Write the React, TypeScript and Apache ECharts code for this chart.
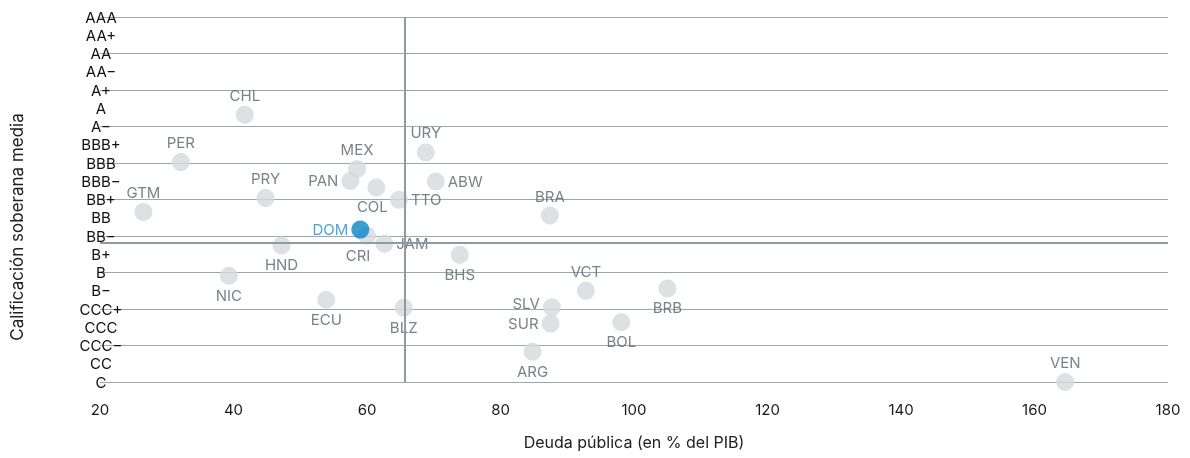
import React, { useEffect, useRef } from "react";
import * as echarts from "echarts";

const ratingLabels = ["C", "CC", "CCC−", "CCC", "CCC+", "B−", "B", "B+", "BB−", "BB", "BB+", "BBB−", "BBB", "BBB+", "A−", "A", "A+", "AA−", "AA", "AA+", "AAA"];
const countries = ["CHL", "PER", "GTM", "PRY", "HND", "NIC", "MEX", "PAN", "COL", "TTO", "URY", "ABW", "CRI", "JAM", "BHS", "VCT", "SLV", "SUR", "BOL", "BRB", "ARG", "BRA", "ECU", "BLZ", "VEN", "DOM"];
const debt = [41.7, 32.1, 26.5, 44.8, 47.2, 39.3, 58.5, 57.5, 61.4, 64.8, 68.8, 70.3, 60.0, 62.6, 73.9, 92.8, 87.7, 87.5, 98.1, 105.0, 84.8, 87.4, 53.9, 65.5, 164.6, 59.0];
const rating = [14.65, 12.05, 9.32, 10.08, 7.48, 5.82, 11.67, 11.02, 10.66, 9.99, 12.58, 10.99, 8.02, 7.58, 6.97, 5.0, 4.09, 3.2, 3.27, 5.13, 1.66, 9.12, 4.51, 4.07, 0, 8.35];
const highlight = "DOM";
const meanDebt = 65.7;
const meanRating = 7.62;
const xTitle = "Deuda pública (en % del PIB)";
const yTitle = "Calificación soberana media";

const labelPos: Record<string, string> = {
  CHL: "top", PER: "top", GTM: "top", PRY: "top", HND: "bottom", NIC: "bottom",
  MEX: "top", PAN: "left", COL: "bottom", TTO: "right", URY: "top", ABW: "right",
  CRI: "bottom", JAM: "right", BHS: "bottom", VCT: "top", SLV: "left", SUR: "left",
  BOL: "bottom", BRB: "bottom", ARG: "bottom", BRA: "top", ECU: "bottom", BLZ: "bottom",
  VEN: "top", DOM: "left",
};
const labelOffset: Record<string, number[]> = {
  COL: [-4, 0], CRI: [-9, 0], SLV: [0, -4],
};

const FONT = "Inter, 'Noto Sans', sans-serif";
const GRID = "#9ba7ad";

export default function App() {
  const ref = useRef<HTMLDivElement>(null);
  useEffect(() => {
    if (!ref.current) return;
    const chart = echarts.init(ref.current, null, { renderer: "svg" });
    const data = countries.map((c, i) => {
      const hl = c === highlight;
      return {
        name: c,
        value: [debt[i], rating[i]],
        itemStyle: { color: hl ? "#0a86c8" : "#d6dadd" },
        label: {
          show: true,
          formatter: c,
          position: labelPos[c] || "top",
          offset: labelOffset[c] || [0, 0],
          distance: 3,
          color: hl ? "#1a8fd0" : "#56646b",
          fontSize: 15,
          fontFamily: FONT,
        },
      };
    });
    const grey = data.filter((d) => d.name !== highlight);
    const hi = data.filter((d) => d.name === highlight);
    chart.setOption({
      animation: false,
      textStyle: { fontFamily: FONT },
      grid: { left: 100, right: 22, top: 17, bottom: 76, containLabel: false, outerBoundsMode: "none" },
      graphic: [
        {
          type: "text",
          x: 17,
          y: 227,
          rotation: Math.PI / 2,
          style: {
            text: yTitle,
            fill: "#222",
            fontSize: 17,
            fontFamily: FONT,
            textAlign: "center",
            textVerticalAlign: "middle",
          },
        },
      ],
      xAxis: {
        type: "value",
        min: 20,
        max: 180,
        interval: 20,
        name: xTitle,
        nameLocation: "middle",
        nameGap: 52,
        nameTextStyle: { color: "#222", fontSize: 16, fontFamily: FONT },
        axisLine: { show: false },
        axisTick: { show: false },
        splitLine: { show: false },
        axisLabel: { color: "#1a1a1a", fontSize: 15, margin: 20, fontFamily: FONT },
      },
      yAxis: [
        {
          type: "value",
          min: 0,
          max: 20,
          interval: 1,
          axisLine: { show: false },
          axisTick: { show: false },
          splitLine: { show: false },
          axisLabel: {
            color: "#111",
            fontSize: 15,
            margin: -1,
            align: "center",
            fontFamily: FONT,
            formatter: (v: number) => ratingLabels[Math.round(v)] ?? "",
          },
        },
        {
          type: "value",
          min: 0,
          max: 20,
          interval: 2,
          position: "left",
          axisLine: { show: false },
          axisTick: { show: false },
          axisLabel: { show: false },
          splitLine: { show: true, lineStyle: { color: GRID, width: 1.2 } },
        },
      ],
      series: [
        {
          type: "scatter",
          yAxisIndex: 0,
          symbolSize: 18,
          data: grey,
          markLine: {
            silent: true,
            symbol: "none",
            label: { show: false },
            lineStyle: { color: "#8d9ba2", width: 2, type: "solid" },
            data: [{ xAxis: meanDebt }, { yAxis: meanRating }],
          },
        },
        {
          type: "scatter",
          yAxisIndex: 0,
          symbolSize: 18,
          data: hi,
          z: 5,
        },
      ],
    });
    return () => chart.dispose();
  }, []);
  return (
    <div
      ref={ref}
      style={{ position: "fixed", left: 0, top: 0, width: 1190, height: 458 }}
    />
  );
}
